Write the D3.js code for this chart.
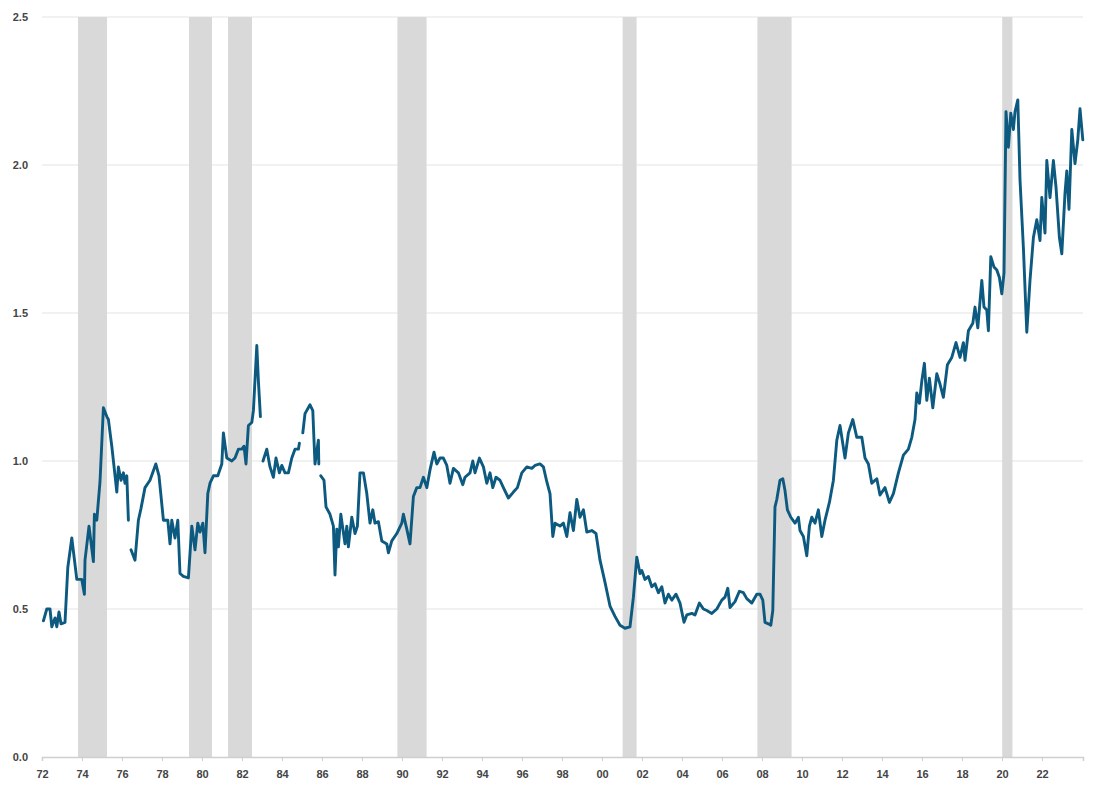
<!DOCTYPE html>
<html>
<head>
<meta charset="utf-8">
<script src="https://cdn.jsdelivr.net/npm/d3@7"></script>
<style>
    body { margin: 0; background: #fff; }
    svg { display: block; font-family: "Open Sans", "DejaVu Sans", sans-serif; }
    .grid line { stroke: #e3e3e3; stroke-width: 1.2; }
    .tick text { fill: #444; font-size: 11px; font-weight: 700; }
</style>
</head>
<body>
<svg id="chart"></svg>
<script>
// years (decimal) and ratio values; null = break in the line
var years = [
    1972.07, 1972.24, 1972.40, 1972.49, 1972.65, 1972.74, 1972.85, 1972.95, 1973.15, 1973.29,
    1973.49, 1973.74, 1973.99, 1974.12, 1974.15, 1974.35, 1974.57, 1974.62, 1974.74, 1974.90,
    1975.07, 1975.24, 1975.32, 1975.49, 1975.62, 1975.74, 1975.82, 1975.95, 1976.07, 1976.15,
    1976.24, 1976.32, 1976.40, 1976.45, 1976.65, 1976.82, 1976.95, 1977.15, 1977.40, 1977.69,
    1977.85, 1978.07, 1978.29, 1978.40, 1978.49, 1978.65, 1978.79, 1978.90, 1979.07, 1979.32,
    1979.49, 1979.65, 1979.79, 1979.90, 1980.04, 1980.15, 1980.29, 1980.40, 1980.57, 1980.79,
    1980.99, 1981.07, 1981.24, 1981.49, 1981.65, 1981.82, 1981.99, 1982.10, 1982.20, 1982.32,
    1982.49, 1982.57, 1982.74, 1982.82, 1982.92, 1983.00, 1983.05, 1983.24, 1983.40, 1983.57,
    1983.70, 1983.87, 1983.99, 1984.15, 1984.32, 1984.49, 1984.65, 1984.82, 1984.87, 1984.95,
    1985.04, 1985.15, 1985.40, 1985.54, 1985.60, 1985.65, 1985.82, 1985.84, 1985.90, 1985.94,
    1986.10, 1986.20, 1986.40, 1986.57, 1986.65, 1986.74, 1986.82, 1986.94, 1987.15, 1987.24,
    1987.32, 1987.49, 1987.65, 1987.77, 1987.90, 1988.07, 1988.24, 1988.40, 1988.54, 1988.65,
    1988.82, 1988.99, 1989.24, 1989.32, 1989.49, 1989.74, 1989.99, 1990.07, 1990.24, 1990.40,
    1990.57, 1990.74, 1990.90, 1991.07, 1991.24, 1991.40, 1991.60, 1991.74, 1991.90, 1992.07,
    1992.24, 1992.40, 1992.57, 1992.82, 1993.04, 1993.15, 1993.40, 1993.54, 1993.65, 1993.87,
    1994.07, 1994.24, 1994.40, 1994.54, 1994.70, 1994.90, 1995.07, 1995.32, 1995.57, 1995.77,
    1995.99, 1996.24, 1996.49, 1996.65, 1996.90, 1997.07, 1997.24, 1997.40, 1997.54, 1997.65,
    1997.90, 1998.07, 1998.24, 1998.40, 1998.57, 1998.74, 1998.90, 1999.07, 1999.24, 1999.49,
    1999.70, 1999.90, 2000.15, 2000.40, 2000.65, 2000.90, 2001.15, 2001.40, 2001.57, 2001.74,
    2001.90, 2001.99, 2002.15, 2002.32, 2002.49, 2002.65, 2002.82, 2002.99, 2003.15, 2003.32,
    2003.49, 2003.70, 2003.90, 2004.10, 2004.24, 2004.49, 2004.65, 2004.87, 2005.07, 2005.24,
    2005.49, 2005.74, 2005.99, 2006.15, 2006.29, 2006.40, 2006.65, 2006.87, 2007.07, 2007.24,
    2007.49, 2007.74, 2007.90, 2008.04, 2008.15, 2008.32, 2008.44, 2008.54, 2008.65, 2008.74,
    2008.90, 2009.04, 2009.15, 2009.27, 2009.44, 2009.65, 2009.82, 2009.90, 2010.07, 2010.24,
    2010.37, 2010.49, 2010.65, 2010.82, 2010.99, 2011.15, 2011.37, 2011.57, 2011.74, 2011.90,
    2012.15, 2012.32, 2012.54, 2012.74, 2012.99, 2013.15, 2013.32, 2013.49, 2013.74, 2013.90,
    2014.15, 2014.37, 2014.57, 2014.82, 2015.07, 2015.32, 2015.49, 2015.65, 2015.74, 2015.87,
    2015.99, 2016.12, 2016.24, 2016.37, 2016.54, 2016.74, 2016.90, 2017.07, 2017.27, 2017.49,
    2017.70, 2017.90, 2018.07, 2018.15, 2018.32, 2018.54, 2018.65, 2018.79, 2018.99, 2019.10,
    2019.24, 2019.32, 2019.44, 2019.60, 2019.74, 2019.87, 2019.99, 2020.10, 2020.20, 2020.32,
    2020.44, 2020.57, 2020.65, 2020.79, 2020.90, 2021.07, 2021.24, 2021.40, 2021.57, 2021.74,
    2021.90, 2021.99, 2022.15, 2022.24, 2022.40, 2022.57, 2022.70, 2022.87, 2022.99, 2023.15,
    2023.24, 2023.35, 2023.49, 2023.65, 2023.79, 2023.90, 2024.04
];
var values = [
    0.46, 0.50, 0.50, 0.44, 0.47, 0.44, 0.49, 0.45, 0.455, 0.64,
    0.74, 0.60, 0.60, 0.55, 0.665, 0.78, 0.66, 0.82, 0.80, 0.93,
    1.18, 1.15, 1.14, 1.05, 0.97, 0.895, 0.98, 0.935, 0.96, 0.925,
    0.95, 0.80, null, 0.70, 0.665, 0.80, 0.84, 0.91, 0.935, 0.99,
    0.95, 0.80, 0.80, 0.72, 0.80, 0.74, 0.80, 0.62, 0.61, 0.605,
    0.78, 0.70, 0.79, 0.76, 0.79, 0.69, 0.89, 0.925, 0.95, 0.95,
    0.99, 1.095, 1.01, 1.00, 1.01, 1.04, 1.04, 1.05, 0.99, 1.12,
    1.13, 1.17, 1.39, 1.27, 1.15, null, 1.00, 1.04, 0.98, 0.945,
    1.01, 0.96, 0.985, 0.96, 0.96, 1.01, 1.04, 1.04, 1.06, null,
    1.095, 1.16, 1.19, 1.17, 1.07, 0.99, 1.07, 0.99, null, 0.95,
    0.935, 0.845, 0.82, 0.78, 0.615, 0.77, 0.71, 0.82, 0.72, 0.78,
    0.71, 0.81, 0.755, 0.78, 0.96, 0.96, 0.89, 0.79, 0.835, 0.79,
    0.795, 0.73, 0.72, 0.69, 0.73, 0.755, 0.79, 0.82, 0.77, 0.72,
    0.88, 0.91, 0.91, 0.945, 0.91, 0.97, 1.03, 0.99, 1.01, 1.01,
    0.985, 0.925, 0.975, 0.96, 0.92, 0.945, 0.96, 1.00, 0.96, 1.01,
    0.98, 0.925, 0.96, 0.91, 0.945, 0.935, 0.91, 0.875, 0.895, 0.91,
    0.96, 0.98, 0.975, 0.985, 0.99, 0.98, 0.93, 0.89, 0.745, 0.79,
    0.78, 0.79, 0.745, 0.825, 0.765, 0.87, 0.81, 0.835, 0.76, 0.765,
    0.755, 0.665, 0.59, 0.51, 0.475, 0.445, 0.435, 0.44, 0.54, 0.675,
    0.62, 0.63, 0.60, 0.61, 0.575, 0.585, 0.555, 0.575, 0.52, 0.55,
    0.53, 0.55, 0.52, 0.455, 0.48, 0.485, 0.48, 0.52, 0.50, 0.495,
    0.485, 0.50, 0.53, 0.54, 0.57, 0.505, 0.525, 0.56, 0.555, 0.535,
    0.52, 0.55, 0.55, 0.53, 0.455, 0.45, 0.445, 0.495, 0.845, 0.87,
    0.935, 0.94, 0.90, 0.835, 0.81, 0.79, 0.81, 0.765, 0.745, 0.68,
    0.78, 0.81, 0.79, 0.835, 0.745, 0.80, 0.86, 0.935, 1.07, 1.12,
    1.01, 1.095, 1.14, 1.08, 1.08, 1.01, 0.99, 0.925, 0.94, 0.885,
    0.91, 0.86, 0.89, 0.96, 1.02, 1.04, 1.08, 1.14, 1.23, 1.195,
    1.27, 1.33, 1.205, 1.28, 1.18, 1.295, 1.26, 1.215, 1.325, 1.35,
    1.40, 1.35, 1.40, 1.34, 1.44, 1.465, 1.52, 1.45, 1.61, 1.52,
    1.51, 1.44, 1.69, 1.655, 1.645, 1.62, 1.565, 1.635, 2.18, 2.06,
    2.175, 2.12, 2.18, 2.22, 1.95, 1.72, 1.435, 1.61, 1.755, 1.815,
    1.745, 1.89, 1.77, 2.015, 1.89, 2.015, 1.925, 1.755, 1.70, 1.905,
    1.98, 1.85, 2.12, 2.005, 2.085, 2.19, 2.085
];
// recession periods [start, end]
var recessions = [
    [1973.80, 1975.25], [1979.35, 1980.50], [1981.30, 1982.50], [1989.77, 1991.23],
    [2001.03, 2001.73], [2007.77, 2009.48], [2020.01, 2020.52]
];
var xTicks = d3.range(1972, 2023, 2);
var yTicks = [0, 0.5, 1.0, 1.5, 2.0, 2.5];

var width = 1100,
    height = 794,
    margin = {top: 17, right: 17, bottom: 37, left: 42};

var svg = d3.select("#chart")
    .attr("width", width)
    .attr("height", height);

var x = d3.scaleLinear().domain([1972, 2024.05]).range([margin.left, width - margin.right]);
var y = d3.scaleLinear().domain([0, 2.5]).range([height - margin.bottom, margin.top]);

// Gridlines
svg.append("g").attr("class", "grid")
    .selectAll("line")
    .data(yTicks.slice(1))
    .enter().append("line")
    .attr("x1", x.range()[0]).attr("x2", x.range()[1])
    .attr("y1", y).attr("y2", y);

// Recession bands
svg.append("g").selectAll("rect")
    .data(recessions)
    .enter().append("rect")
    .attr("x", function (d) { return x(d[0]); })
    .attr("width", function (d) { return x(d[1]) - x(d[0]); })
    .attr("y", y(2.5))
    .attr("height", y(0) - y(2.5))
    .attr("fill", "#d9d9d9");

// Axes
var xAxis = svg.append("g")
    .attr("transform", "translate(0," + y(0) + ")")
    .call(d3.axisBottom(x).tickValues(xTicks).tickSize(4).tickPadding(9)
        .tickFormat(function (d) { return d3.format("02d")(d % 100); }));
xAxis.select(".domain").attr("stroke", "#cfcfcf").attr("stroke-width", 1.5);
xAxis.selectAll(".tick line").attr("stroke", "#cfcfcf");

var yAxis = svg.append("g")
    .attr("transform", "translate(" + margin.left + ",0)")
    .call(d3.axisLeft(y).tickValues(yTicks).tickSize(0).tickPadding(14).tickFormat(d3.format(".1f")));
yAxis.select(".domain").remove();

// Series line
var points = years.map(function (yr, i) { return {year: yr, value: values[i]}; });
var line = d3.line()
    .defined(function (d) { return d.value !== null; })
    .x(function (d) { return x(d.year); })
    .y(function (d) { return y(d.value); });

svg.append("path")
    .datum(points)
    .attr("d", line)
    .attr("fill", "none")
    .attr("stroke", "#0d5a80")
    .attr("stroke-width", 2.9)
    .attr("stroke-linejoin", "round")
    .attr("stroke-linecap", "round");
</script>
</body>
</html>
